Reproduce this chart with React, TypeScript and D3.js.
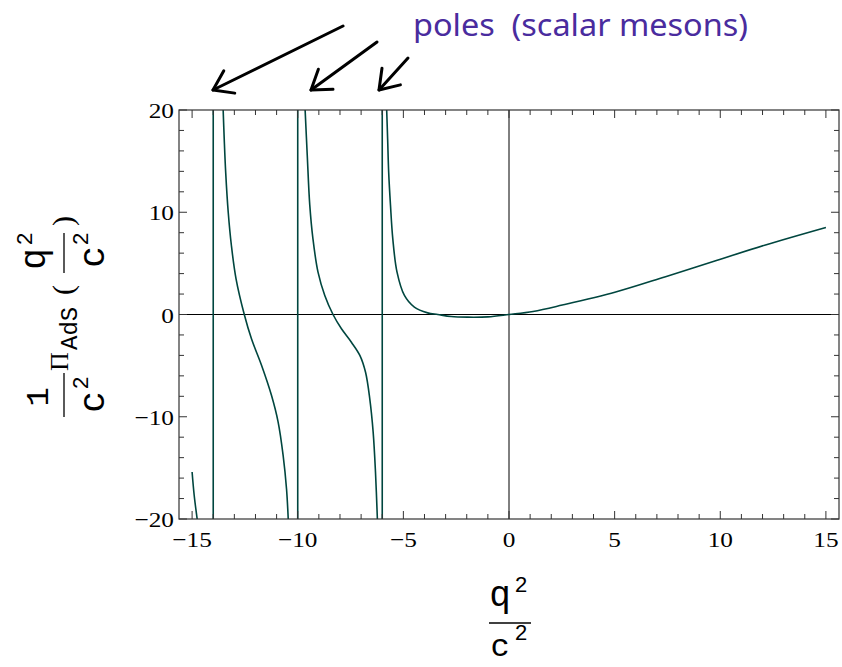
import React from "react";
import * as d3 from "d3";

// Sampled curve of Π_AdS(q²/c²)/c², split at the poles
const branchA: [number, number][] = [
  [-15.0, -15.4], [-14.9, -17.7], [-14.76, -20],
];
const branchB: [number, number][] = [
  [-13.53, 20], [-13.48, 17.2], [-13.41, 13.9], [-13.29, 10.0], [-13.14, 6.75],
  [-12.92, 3.49], [-12.53, 0], [-12.19, -2.38], [-11.71, -4.99], [-11.24, -7.93],
  [-10.93, -10.5], [-10.69, -13.8], [-10.53, -17.06], [-10.45, -20],
];
const branchC: [number, number][] = [
  [-9.65, 20], [-9.55, 15.6], [-9.43, 10.7], [-9.28, 7.4], [-9.04, 4.14],
  [-8.72, 1.86], [-8.33, 0], [-7.93, -1.4], [-7.46, -2.71], [-7.06, -4.0],
  [-6.79, -5.65], [-6.59, -8.25], [-6.43, -11.5], [-6.32, -15.4], [-6.23, -20],
];
const branchD: [number, number][] = [
  [-5.79, 20], [-5.745, 17.2], [-5.695, 13.9], [-5.61, 10.7], [-5.5, 7.4],
  [-5.3, 4.14], [-4.95, 1.86], [-4.48, 0.72], [-3.85, 0.16], [-3.37, 0],
  [-2.74, -0.2], [-1.95, -0.26], [-1.0, -0.23], [0, 0], [1.14, 0.3],
  [2.52, 0.92], [5.05, 2.2], [7.41, 3.7], [9.78, 5.25], [12.14, 6.8],
  [15.0, 8.51],
];
const branches = [branchA, branchB, branchC, branchD];

// Pole positions (scalar meson masses)
const poles = [-14, -10, -6];

const xMajor = [-15, -10, -5, 0, 5, 10, 15];
const yMajor = [-20, -10, 0, 10, 20];
const xDomain: [number, number] = [-15.62, 15.62];
const yDomain: [number, number] = [-20, 20];

const W = 842;
const H = 667;
const plot = { left: 179, right: 839, top: 110, bottom: 519 };

const curveColor = "#00463f";
const frameColor = "#333";
const noteColor = "#4a2c9e";

const fmt = (v: number) => (v < 0 ? "\u2212" + Math.abs(v) : String(v));

// Hand-drawn style arrows pointing at the poles
const arrows = [
  { x1: 343, y1: 26, x2: 213, y2: 90 },
  { x1: 377, y1: 42, x2: 311, y2: 90 },
  { x1: 408, y1: 58, x2: 379, y2: 90 },
];

function arrowHead(a: { x1: number; y1: number; x2: number; y2: number }) {
  const ang = Math.atan2(a.y2 - a.y1, a.x2 - a.x1);
  const len = 22;
  const spread = 0.6;
  const p1 = [a.x2 - len * Math.cos(ang - spread), a.y2 - len * Math.sin(ang - spread)];
  const p2 = [a.x2 - len * Math.cos(ang + spread), a.y2 - len * Math.sin(ang + spread)];
  return `M${p1[0]},${p1[1]} L${a.x2},${a.y2} L${p2[0]},${p2[1]}`;
}

export default function App() {
  const x = d3.scaleLinear().domain(xDomain).range([plot.left, plot.right]);
  const y = d3.scaleLinear().domain(yDomain).range([plot.bottom, plot.top]);

  const line = d3
    .line<[number, number]>()
    .x((d) => x(d[0]))
    .y((d) => y(d[1]))
    .curve(d3.curveCatmullRom.alpha(0.5));

  const xMinor = d3.range(-15, 16, 1).filter((v) => v % 5 !== 0);
  const yMinor = d3.range(-20, 21, 2).filter((v) => v % 10 !== 0);

  const majLen = 8;
  const minLen = 5;

  const tickFont = "'Liberation Serif', 'Times New Roman', serif";
  const monoFont = "'Liberation Mono', 'Courier New', monospace";

  return (
    <svg
      width={W}
      height={H}
      style={{ position: "absolute", left: 0, top: 0, background: "#fff" }}
    >
      <defs>
        <clipPath id="plotClip">
          <rect x={plot.left} y={plot.top} width={plot.right - plot.left} height={plot.bottom - plot.top} />
        </clipPath>
      </defs>

      {/* zero axes */}
      <line x1={plot.left} x2={plot.right} y1={y(0)} y2={y(0)} stroke="#000" strokeWidth={1} />
      <line x1={x(0)} x2={x(0)} y1={plot.top} y2={plot.bottom} stroke="#000" strokeWidth={1} />

      {/* curve */}
      <g clipPath="url(#plotClip)" fill="none" stroke={curveColor} strokeWidth={1.6}>
        {poles.map((p) => (
          <line key={p} x1={x(p)} x2={x(p)} y1={plot.top} y2={plot.bottom} />
        ))}
        {branches.map((b, i) => (
          <path key={i} d={line(b) || ""} />
        ))}
      </g>

      {/* frame */}
      <rect
        x={plot.left}
        y={plot.top}
        width={plot.right - plot.left}
        height={plot.bottom - plot.top}
        fill="none"
        stroke={frameColor}
        strokeWidth={1.2}
      />

      {/* ticks, drawn inward on all four sides */}
      <g stroke={frameColor} strokeWidth={1}>
        {xMajor.map((v) => (
          <g key={"xM" + v}>
            <line x1={x(v)} x2={x(v)} y1={plot.bottom} y2={plot.bottom - majLen} />
            <line x1={x(v)} x2={x(v)} y1={plot.top} y2={plot.top + majLen} />
          </g>
        ))}
        {xMinor.map((v) => (
          <g key={"xm" + v}>
            <line x1={x(v)} x2={x(v)} y1={plot.bottom} y2={plot.bottom - minLen} />
            <line x1={x(v)} x2={x(v)} y1={plot.top} y2={plot.top + minLen} />
          </g>
        ))}
        {yMajor.map((v) => (
          <g key={"yM" + v}>
            <line x1={plot.left} x2={plot.left + majLen} y1={y(v)} y2={y(v)} />
            <line x1={plot.right} x2={plot.right - majLen} y1={y(v)} y2={y(v)} />
          </g>
        ))}
        {yMinor.map((v) => (
          <g key={"ym" + v}>
            <line x1={plot.left} x2={plot.left + minLen} y1={y(v)} y2={y(v)} />
            <line x1={plot.right} x2={plot.right - minLen} y1={y(v)} y2={y(v)} />
          </g>
        ))}
      </g>

      {/* tick labels */}
      <g fontFamily={tickFont} fontSize={22} fill="#000">
        {xMajor.map((v) => (
          <text
            key={"xl" + v}
            transform={`translate(${x(v)},${plot.bottom + 28}) scale(1.15,1)`}
            textAnchor="middle"
          >
            {fmt(v)}
          </text>
        ))}
        {yMajor.map((v) => (
          <text
            key={"yl" + v}
            transform={`translate(${plot.left - 5},${y(v) + 8}) scale(1.15,1)`}
            textAnchor="end"
          >
            {fmt(v)}
          </text>
        ))}
      </g>

      {/* x-axis label: q²/c² */}
      <g fontFamily={monoFont} fill="#000">
        <text x={500} y={606} fontSize={36} textAnchor="middle">q</text>
        <text x={521} y={592} fontSize={22} textAnchor="middle">2</text>
        <line x1={489} x2={531} y1={623} y2={623} stroke="#000" strokeWidth={1.3} />
        <text x={500} y={656} fontSize={32} textAnchor="middle">c</text>
        <text x={521} y={640} fontSize={22} textAnchor="middle">2</text>
      </g>

      {/* y-axis label: (1/c²) Π_AdS(q²/c²) */}
      <g transform="translate(64,417) rotate(-90)" fill="#000">
        <text x={20} y={-16} fontFamily={monoFont} fontSize={32} textAnchor="middle">1</text>
        <line x1={0} x2={44} y1={0} y2={0} stroke="#000" strokeWidth={1.3} />
        <text x={15} y={40} fontFamily={monoFont} fontSize={36} textAnchor="middle">c</text>
        <text x={34} y={24} fontFamily={monoFont} fontSize={22} textAnchor="middle">2</text>

        <text x={46} y={4} fontFamily={tickFont} fontSize={26}>Π</text>
        <text x={67} y={13} fontFamily={monoFont} fontSize={24}>AdS</text>

        <text x={122} y={9} fontFamily={tickFont} fontSize={30}>(</text>
        <line x1={144} x2={184} y1={0} y2={0} stroke="#000" strokeWidth={1.3} />
        <text x={158} y={-19} fontFamily={monoFont} fontSize={36} textAnchor="middle">q</text>
        <text x={178} y={-32} fontFamily={monoFont} fontSize={22} textAnchor="middle">2</text>
        <text x={160} y={40} fontFamily={monoFont} fontSize={36} textAnchor="middle">c</text>
        <text x={178} y={24} fontFamily={monoFont} fontSize={22} textAnchor="middle">2</text>
        <text x={191} y={9} fontFamily={tickFont} fontSize={30}>)</text>
      </g>

      {/* annotation */}
      <text
        x={413}
        y={36}
        fontFamily="'Noto Sans', 'DejaVu Sans', sans-serif"
        fontSize={30}
        fill={noteColor}
        textLength={335}
        lengthAdjust="spacingAndGlyphs"
        style={{ whiteSpace: "pre" }}
      >
        {"poles  (scalar mesons)"}
      </text>
      <g stroke="#000" strokeWidth={3} fill="none" strokeLinecap="round" strokeLinejoin="round">
        {arrows.map((a, i) => (
          <g key={i}>
            <line x1={a.x1} y1={a.y1} x2={a.x2} y2={a.y2} />
            <path d={arrowHead(a)} />
          </g>
        ))}
      </g>
    </svg>
  );
}
